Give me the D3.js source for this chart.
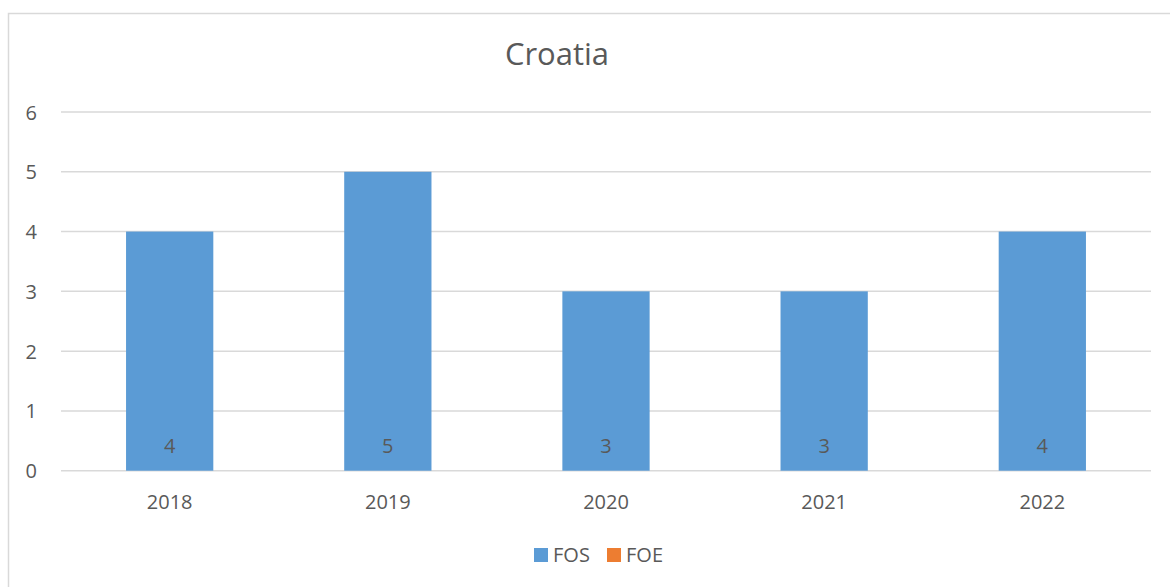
<!DOCTYPE html>
<html><head><meta charset="utf-8">
<script src="https://cdn.jsdelivr.net/npm/d3@7"></script>
<style>body{margin:0;background:#fff}svg{display:block}text{font-family:"Open Sans","Noto Sans",sans-serif;fill:#595959}</style>
</head><body>
<script>
const title = "Croatia";
const categories = ["2018","2019","2020","2021","2022"];
const fos = [4,5,3,3,4];
const foe = [0,0,0,0,0];
const seriesNames = ["FOS","FOE"];
const seriesColors = ["#5B9BD5","#ED7D31"];
const yTicks = [0,1,2,3,4,5,6];

const W = 1170, H = 587;
const svg = d3.select("body").append("svg").attr("width",W).attr("height",H);
svg.append("rect").attr("x",8.5).attr("y",13.5).attr("width",1200).attr("height",620)
  .attr("fill","#fff").attr("stroke","#D9D9D9").attr("stroke-width",1.5);

const x = d3.scaleBand().domain(categories).range([60.6,1151.4]).padding(0);
const y = d3.scaleLinear().domain([0,6]).range([470.7,112]);

const grid = svg.append("g");
grid.selectAll("line").data(yTicks).join("line")
  .attr("x1",61).attr("x2",1151)
  .attr("y1",d=>y(d)).attr("y2",d=>y(d))
  .attr("stroke","#D9D9D9").attr("stroke-width",1.5);

const yAxis = d3.axisLeft(y).tickValues(yTicks).tickFormat(d3.format("d")).tickSize(0).tickPadding(0);
const ya = svg.append("g").attr("transform","translate(37,0)").call(yAxis);
ya.select(".domain").remove();
ya.selectAll("text").attr("font-size",20).attr("fill","#595959").attr("dy","0.35em")
  .style("font-family",'"Open Sans","Noto Sans",sans-serif');

const bw = x.bandwidth()*0.4;
svg.append("g").selectAll("rect").data(fos).join("rect")
  .attr("x",(d,i)=>x(categories[i])+x.bandwidth()/2-bw/2)
  .attr("width",bw)
  .attr("y",d=>y(d)).attr("height",d=>y(0)-y(d))
  .attr("fill",seriesColors[0]);

svg.append("g").selectAll("text").data(fos).join("text")
  .attr("x",(d,i)=>x(categories[i])+x.bandwidth()/2)
  .attr("y",y(0)-17.5)
  .attr("text-anchor","middle").attr("font-size",20).attr("fill","#404040")
  .text(d=>d);

const xAxis = d3.axisBottom(x).tickSize(0).tickPadding(0);
const xa = svg.append("g").attr("transform","translate(0,509)").call(xAxis);
xa.select(".domain").remove();
xa.selectAll("text").attr("font-size",20).attr("fill","#595959").attr("dy",0)
  .style("font-family",'"Open Sans","Noto Sans",sans-serif');

svg.append("text").attr("x",557).attr("y",65).attr("text-anchor","middle")
  .attr("font-size",31).text(title);

const legX = [534,607];
const leg = svg.append("g").selectAll("g").data(seriesNames).join("g")
  .attr("transform",(d,i)=>`translate(${legX[i]},548)`);
leg.append("rect").attr("width",14).attr("height",14).attr("fill",(d,i)=>seriesColors[i]);
leg.append("text").attr("x",19).attr("y",14).attr("font-size",20).text(d=>d);
</script>
</body></html>
